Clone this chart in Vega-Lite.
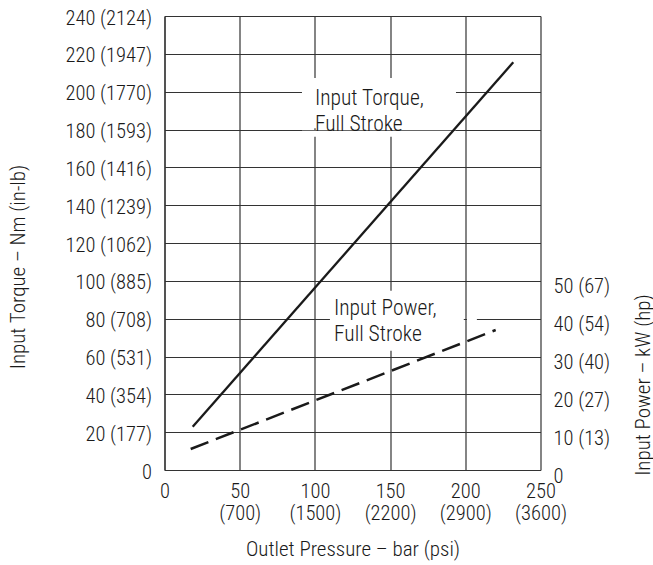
{
  "$schema": "https://vega.github.io/schema/vega-lite/v6.json",
  "width": 376,
  "height": 454,
  "autosize": {"type": "none"},
  "padding": {"left": 164.5, "top": 16, "right": 112.5, "bottom": 95},
  "background": "white",
  "config": {
    "view": {"stroke": null},
    "font": "Roboto Condensed, DejaVu Sans Condensed, Roboto",
    "axis": {
      "labelFont": "Roboto Condensed, DejaVu Sans Condensed, Roboto",
      "titleFont": "Roboto Condensed, DejaVu Sans Condensed, Roboto",
      "labelFontSize": 20.5,
      "titleFontSize": 21,
      "labelFontWeight": 300,
      "titleFontWeight": 300,
      "labelColor": "#1a1a1a",
      "titleColor": "#1a1a1a",
      "ticks": false,
      "domainColor": "#333",
      "domainWidth": 1.2,
      "gridColor": "#333",
      "gridWidth": 1.2,
      "gridOpacity": 1,
      "labelOverlap": false,
      "labelFlush": false
    }
  },
  "layer": [
    {
      "encoding": {
        "x": {
          "field": "pressure",
          "type": "quantitative",
          "scale": {"domain": [0, 250], "nice": false, "zero": true},
          "axis": {
            "values": [0, 50, 100, 150, 200, 250],
            "labelExpr": "[['0'],['50','(700)'],['100','(1500)'],['150','(2200)'],['200','(2900)'],['250','(3600)']][round(datum.value/50)]",
            "grid": true,
            "domain": true,
            "labelPadding": 11,
            "labelLineHeight": 22,
            "title": "Outlet Pressure – bar (psi)",
            "titleY": 79,
            "titleBaseline": "middle"
          }
        },
        "y": {
          "field": "torque",
          "type": "quantitative",
          "scale": {"domain": [0, 240], "nice": false, "zero": true},
          "axis": {
            "orient": "left",
            "values": [0, 20, 40, 60, 80, 100, 120, 140, 160, 180, 200, 220, 240],
            "labelExpr": "['0','20 (177)','40 (354)','60 (531)','80 (708)','100 (885)','120 (1062)','140 (1239)','160 (1416)','180 (1593)','200 (1770)','220 (1947)','240 (2124)'][round(datum.value/20)]",
            "grid": true,
            "domain": true,
            "labelPadding": 13,
            "labelOffset": 2,
            "title": "Input Torque – Nm (in-lb)",
            "titleX": -146,
            "titleY": 250.5,
            "titleBaseline": "middle"
          }
        }
      },
      "layer": [
        {
          "data": {"values": [
            {"pressure": 91.4, "pressure2": 193.8, "torque": 207.2, "torque2": 180.6},
            {"pressure": 91.4, "pressure2": 193.8, "torque": 179.4, "torque2": 176.2}
          ]},
          "mark": {"type": "rect", "color": "white", "strokeWidth": 0},
          "encoding": {
            "x2": {"field": "pressure2"},
            "y2": {"field": "torque2"}
          }
        },
        {
          "data": {"values": [
            {"pressure": 18.75, "torque": 22.9},
            {"pressure": 231.9, "torque": 215.5}
          ]},
          "mark": {"type": "line", "color": "#1a1a1a", "strokeWidth": 2.3}
        },
        {
          "data": {"values": [
            {"pressure": 100, "torque": 193, "label": "Input Torque,\nFull Stroke"}
          ]},
          "mark": {"type": "text", "align": "left", "baseline": "alphabetic", "fontSize": 21.5, "font": "Roboto Condensed, DejaVu Sans Condensed, Roboto", "fontWeight": 300, "lineHeight": 26, "lineBreak": "\n", "color": "#1a1a1a"},
          "encoding": {"text": {"field": "label", "type": "nominal"}}
        }
      ]
    },
    {
      "encoding": {
        "x": {
          "field": "pressure",
          "type": "quantitative",
          "scale": {"domain": [0, 250], "nice": false, "zero": true},
          "axis": {
            "values": [0, 50, 100, 150, 200, 250],
            "labelExpr": "[['0'],['50','(700)'],['100','(1500)'],['150','(2200)'],['200','(2900)'],['250','(3600)']][round(datum.value/50)]",
            "grid": true,
            "domain": true,
            "labelPadding": 11,
            "labelLineHeight": 22,
            "title": "Outlet Pressure – bar (psi)",
            "titleY": 79,
            "titleBaseline": "middle"
          }
        },
        "y": {
          "field": "power",
          "type": "quantitative",
          "scale": {"domain": [0, 120], "nice": false, "zero": true},
          "axis": {
            "orient": "right",
            "values": [0, 10, 20, 30, 40, 50],
            "labelExpr": "['0','10 (13)','20 (27)','30 (40)','40 (54)','50 (67)'][round(datum.value/10)]",
            "grid": false,
            "domain": false,
            "labelPadding": 12.6,
            "labelOffset": 6,
            "title": "Input Power – kW (hp)",
            "titleAngle": 270,
            "titleX": 102.5,
            "titleY": 368.5,
            "titleBaseline": "middle"
          }
        }
      },
      "layer": [
        {
          "data": {"values": [
            {"pressure": 110, "pressure2": 199, "power": 47.4, "power2": 31.5},
            {"pressure": 201.1, "pressure2": 207.7, "power": 40.7, "power2": 39.3}
          ]},
          "mark": {"type": "rect", "color": "white", "strokeWidth": 0},
          "encoding": {
            "x2": {"field": "pressure2"},
            "y2": {"field": "power2"}
          }
        },
        {
          "data": {"values": [
            {"pressure": 17.4, "power": 5.55},
            {"pressure": 220.2, "power": 37}
          ]},
          "mark": {"type": "line", "color": "#1a1a1a", "strokeWidth": 2.5, "strokeDash": [19, 8]}
        },
        {
          "data": {"values": [
            {"pressure": 112.7, "power": 41, "label": "Input Power,\nFull Stroke"}
          ]},
          "mark": {"type": "text", "align": "left", "baseline": "alphabetic", "fontSize": 21.5, "font": "Roboto Condensed, DejaVu Sans Condensed, Roboto", "fontWeight": 300, "lineHeight": 26, "lineBreak": "\n", "color": "#1a1a1a"},
          "encoding": {"text": {"field": "label", "type": "nominal"}}
        }
      ]
    }
  ],
  "resolve": {"scale": {"y": "independent"}, "axis": {"y": "independent"}}
}
